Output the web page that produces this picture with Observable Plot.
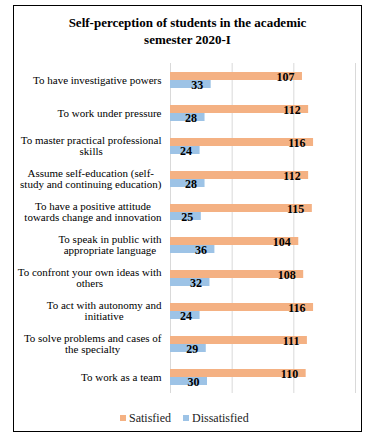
<!DOCTYPE html>
<html>
<head>
<meta charset="utf-8">
<script src="https://cdn.jsdelivr.net/npm/d3@7"></script>
<script src="https://cdn.jsdelivr.net/npm/@observablehq/plot@0.6"></script>
<style>
  html, body { margin: 0; padding: 0; background: #fff; }
  #page { position: relative; width: 369px; height: 441px; font-family: "Liberation Serif", "Times New Roman", serif; }
  #frame { position: absolute; left: 13px; top: 5px; width: 349px; height: 427px; border: 1px solid #000; box-sizing: border-box; }
  #title { position: absolute; left: 13px; top: 15px; width: 349px; text-align: center; font-weight: bold; font-size: 13px; line-height: 16.5px; color: #000; }
  #chart { position: absolute; left: 0; top: 55px; }
  #legend { position: absolute; left: 120px; top: 410px; height: 16px; display: flex; align-items: center; font-size: 12px; color: #222; }
  .item { display: flex; align-items: center; margin-right: 12px; }
  .sw { width: 6px; height: 6px; margin-right: 3px; }
</style>
</head>
<body>
<div id="page">
  <div id="frame"></div>
  <div id="title">Self-perception of students in the academic<br>semester 2020-I</div>
  <div id="chart"></div>
  <div id="legend"></div>
</div>
<script>
const categories = [
  "To have investigative powers",
  "To work under pressure",
  "To master practical professional\nskills",
  "Assume self-education (self-\nstudy and continuing education)",
  "To have a positive attitude\ntowards change and innovation",
  "To speak in public with\nappropriate language",
  "To confront your own ideas with\nothers",
  "To act with autonomy and\ninitiative",
  "To solve problems and cases of\nthe specialty",
  "To work as a team"
];
const satisfied = [107, 112, 116, 112, 115, 104, 108, 116, 111, 110];
const dissatisfied = [33, 28, 24, 28, 25, 36, 32, 24, 29, 30];
const series = ["Satisfied", "Dissatisfied"];
const colors = ["#F4B183", "#9DC3E6"];
const xTicks = [0, 50, 100, 150];

const rows = categories.flatMap((c, i) => [
  {cat: c, series: series[0], value: satisfied[i]},
  {cat: c, series: series[1], value: dissatisfied[i]}
]);

const labelFont = "11px 'Liberation Serif'";
const ctx = document.createElement("canvas").getContext("2d");
ctx.font = labelFont;
const maxW = c => Math.max(...c.split("\n").map(s => ctx.measureText(s).width));

const labelMarks = categories.map(c => Plot.text([c], {
  fy: d => d,
  text: d => d,
  frameAnchor: "left",
  textAnchor: "middle",
  dx: -9 - maxW(c) / 2,
  lineHeight: 1.05,
  fontSize: 11,
  fill: "#000"
}));

const chart = Plot.plot({
  width: 369,
  height: 345,
  marginLeft: 170,
  marginRight: 14,
  marginTop: 8,
  marginBottom: 7,
  style: {fontFamily: "'Liberation Serif', 'Times New Roman', serif", background: "transparent"},
  x: {domain: [0, 150], axis: null},
  y: {domain: series, paddingInner: 0, paddingOuter: 1.0625, axis: null},
  fy: {domain: categories, padding: 0, axis: null},
  color: {domain: series, range: colors},
  marks: [
    Plot.ruleX(xTicks, {stroke: "#d9d9d9", strokeWidth: 1}),
    Plot.barX(rows, {fy: "cat", y: "series", x: "value", fill: "series", insetTop: 0, insetBottom: 0}),
    Plot.text(rows, {fy: "cat", y: "series", x: "value", text: d => String(d.value), textAnchor: "end", dx: -8, dy: 0.5, fontWeight: "bold", fontSize: 12, fill: "#000"}),
    ...labelMarks
  ]
});
document.getElementById("chart").appendChild(chart);

const legend = document.getElementById("legend");
series.forEach((s, i) => {
  const item = document.createElement("div");
  item.className = "item";
  const sw = document.createElement("div");
  sw.className = "sw";
  sw.style.background = colors[i];
  const t = document.createElement("span");
  t.textContent = s;
  item.appendChild(sw);
  item.appendChild(t);
  legend.appendChild(item);
});
</script>
</body>
</html>
